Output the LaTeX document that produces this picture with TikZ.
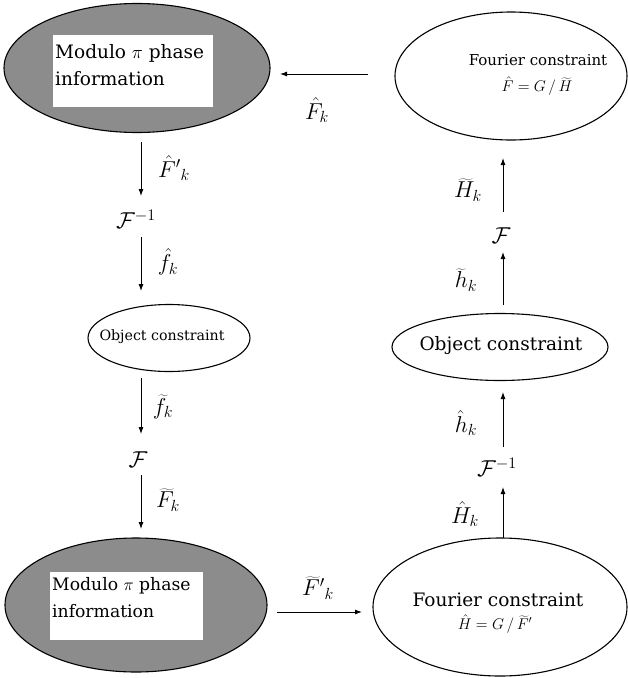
\RequirePackage{fix-cm}
\documentclass[tikz,border=0pt]{standalone}
\usepackage{fontspec}
\setmainfont{DejaVu Serif}
\usetikzlibrary{shapes.geometric,arrows.meta}
\definecolor{shadegray}{gray}{0.55}
\begin{document}
\begin{tikzpicture}[x=1pt,y=-1pt,
  ell/.style={ellipse, draw, line width=1.1pt, inner sep=0pt},
  gell/.style={ell, fill=shadegray},
  wrect/.style={fill=white, inner sep=0pt},
  wtext/.style={inner sep=0pt, align=left, anchor=north west},
  arr/.style={-{Latex[length=7pt,width=5pt]}, line width=0.9pt},
  lbl/.style={font=\fontsize{23}{26}\selectfont, inner sep=0pt},
  eqn/.style={font=\fontsize{15.5}{18}\selectfont, inner sep=0pt}]
\useasboundingbox (0,0) rectangle (628,678);

% ellipses
\node[gell, minimum width=266pt, minimum height=129pt] (tl) at (137,68) {};
\node[gell, minimum width=262pt, minimum height=134pt] (bl) at (136,605) {};
\node[ell, minimum width=232pt, minimum height=128pt] (tr) at (511,76) {};
\node[ell, minimum width=254pt, minimum height=138pt] (br) at (500,607) {};
\node[ell, minimum width=162pt, minimum height=67pt] (lo) at (169,338) {};
\node[ell, minimum width=216pt, minimum height=67pt] (ro) at (500,347) {};

% white boxes with text
\node[wrect, minimum width=160pt, minimum height=72pt] (tlbox) at (133,71) {};
\node[wrect, minimum width=153pt, minimum height=68pt] (blbox) at (126.5,606) {};
\node[wtext, font=\fontsize{18.5}{27}\selectfont] (tlt) at (55,44) {Modulo $\pi$ phase\\information};
\node[wtext, font=\fontsize{17.2}{27}\selectfont] (blt) at (52,577) {Modulo $\pi$ phase\\information};

% ellipse texts
\node[inner sep=0pt, font=\fontsize{15}{18}\selectfont] (trt) at (538,60) {Fourier constraint};
\node[eqn] (tre) at (537,86) {$\hat{F} = G \,/\, \widetilde{H}$};
\node[inner sep=0pt, font=\fontsize{18.5}{22}\selectfont] (brt) at (498,600) {Fourier constraint};
\node[eqn] (bre) at (495,624) {$\hat{H} = G \,/\, \widetilde{F}'$};
\node[inner sep=0pt, font=\fontsize{14.2}{17}\selectfont] (lot) at (162,337) {Object constraint};
\node[inner sep=0pt, font=\fontsize{18.5}{22}\selectfont] (rot) at (501,346) {Object constraint};

% operators
\node[lbl] (finvl) at (136,219) {$\mathcal{F}^{-1}$};
\node[lbl] (fl) at (138,460) {$\mathcal{F}$};
\node[lbl] (finvr) at (497,467) {$\mathcal{F}^{-1}$};
\node[lbl] (fr) at (501,236) {$\mathcal{F}$};

% arrow endpoints
\coordinate (a1s) at (141,142); \coordinate (a1e) at (141,196);
\coordinate (a2s) at (141,237); \coordinate (a2e) at (141,291);
\coordinate (a3s) at (141,378); \coordinate (a3e) at (141,434);
\coordinate (a4s) at (141,475); \coordinate (a4e) at (141,529);
\coordinate (b1s) at (503,538); \coordinate (b1e) at (503,487);
\coordinate (b2s) at (503,447); \coordinate (b2e) at (503,392);
\coordinate (b3s) at (503,305); \coordinate (b3e) at (503,252);
\coordinate (b4s) at (503,212); \coordinate (b4e) at (503,158);
\coordinate (hts) at (368,74); \coordinate (hte) at (280,74);
\coordinate (hbs) at (277,612); \coordinate (hbe) at (362,612);

\draw[arr] (a1s) -- (a1e);
\draw[arr] (a2s) -- (a2e);
\draw[arr] (a3s) -- (a3e);
\draw[arr] (a4s) -- (a4e);
\draw[arr] (b1s) -- (b1e);
\draw[arr] (b2s) -- (b2e);
\draw[arr] (b3s) -- (b3e);
\draw[arr] (b4s) -- (b4e);
\draw[arr] (hts) -- (hte);
\draw[arr] (hbs) -- (hbe);

% labels
\node[lbl] (l1) at (317,110) {$\hat{F}_k$};
\node[lbl] (l2) at (174,168) {$\hat{F}'{}_{k}$};
\node[lbl] (l3) at (168,262) {$\hat{f}_k$};
\node[lbl] (l4) at (163,407) {$\widetilde{f}_k$};
\node[lbl] (l5) at (168,500) {$\widetilde{F}_k$};
\node[lbl] (l6) at (318,588) {$\widetilde{F}'{}_{k}$};
\node[lbl] (l7) at (465,514) {$\hat{H}_k$};
\node[lbl] (l8) at (466,423) {$\hat{h}_k$};
\node[lbl] (l9) at (466,280) {$\widetilde{h}_k$};
\node[lbl] (l10) at (468,190) {$\widetilde{H}_k$};
\end{tikzpicture}
\end{document}
